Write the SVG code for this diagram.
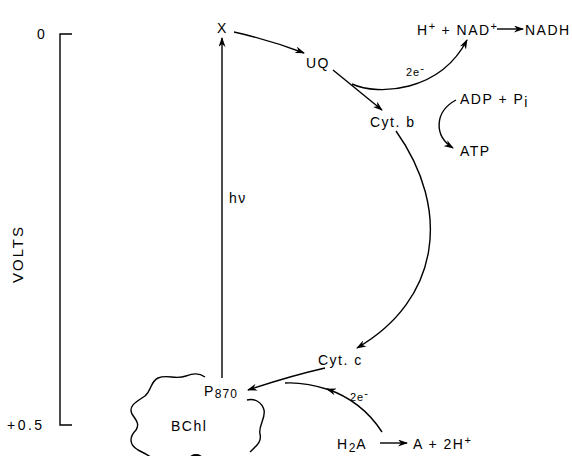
<svg xmlns="http://www.w3.org/2000/svg" width="572" height="456" viewBox="0 0 572 456">
<defs>
<marker id="ah" markerWidth="10" markerHeight="7" refX="9" refY="3.5" orient="auto" markerUnits="userSpaceOnUse">
<path d="M0,0 L10,3.5 L0,7 L3,3.5 z" fill="#000"/>
</marker>
<style>
text{font-family:"Liberation Sans",Arial,sans-serif;font-size:14px;fill:#000;letter-spacing:1.5px}
.c{fill:none;stroke:#000;stroke-width:1.4}
.s{font-size:11px;letter-spacing:1px}
</style>
</defs>
<rect width="572" height="456" fill="#fff"/>
<g id="axis">
<path class="c" d="M72,34 H60 V425 H72"/>
<text x="37" y="39">0</text>
<text x="7" y="430" style="letter-spacing:2.5px">+0.5</text>
<text transform="translate(23,254) rotate(-90)" text-anchor="middle" style="font-size:15px;letter-spacing:2px">VOLTS</text>
</g>
<g id="connectors">
<path class="c" d="M222,378 L222,38" marker-end="url(#ah)"/>
<path class="c" d="M234,32 Q270,40 304,53" marker-end="url(#ah)"/>
<path class="c" d="M333,70 L382,110" marker-end="url(#ah)"/>
<path class="c" d="M352,84 C378,96 440,92 467,40" marker-end="url(#ah)"/>
<path class="c" d="M497,29 L523,29" marker-end="url(#ah)"/>
<path class="c" d="M456,100 C434,112 434,136 453,148" marker-end="url(#ah)"/>
<path class="c" d="M396,131 C452,210 440,300 357,348" marker-end="url(#ah)"/>
<path class="c" d="M325,368 Q290,376 248,390" marker-end="url(#ah)"/>
<path class="c" d="M382,432 Q362,401 327,389" marker-end="url(#ah)"/>
<path class="c" d="M330,390 Q305,382 285,383"/>
<path class="c" d="M380,443 L407,443" marker-end="url(#ah)"/>
</g>
<g id="X"><text x="217" y="33">X</text></g>
<g id="hv"><text x="229" y="203">hν</text></g>
<g id="UQ"><text x="306" y="68">UQ</text></g>
<g id="e1"><text x="406" y="76" class="s">2e<tspan dy="-4">-</tspan></text></g>
<g id="NAD"><text x="417" y="35">H<tspan dy="-5" class="s">+</tspan><tspan dy="5"> + NAD</tspan><tspan dy="-5" class="s">+</tspan></text>
<text x="525" y="35">NADH</text></g>
<g id="Cytb"><text x="370" y="127">Cyt. b</text></g>
<g id="ADP"><text x="460" y="104">ADP + P<tspan dy="3">i</tspan></text></g>
<g id="ATP"><text x="460" y="156">ATP</text></g>
<g id="Cytc"><text x="318" y="365">Cyt. c</text></g>
<g id="e2"><text x="350" y="401" class="s">2e<tspan dy="-4">-</tspan></text></g>
<g id="H2A"><text x="337" y="449">H<tspan dy="3" class="s" style="font-size:12px">2</tspan><tspan dy="-3">A</tspan></text>
<text x="413" y="449">A + 2H<tspan dy="-5" class="s">+</tspan></text></g>
<g id="BChl">
<path class="c" d="M205,377 C198,372 192,374 186,376 C175,380 168,374 158,378 C150,382 152,390 145,396 C136,402 128,406 132,414 C136,420 140,424 136,430 C130,436 128,444 138,450 C146,454 150,456 155,460 M250,452 C256,446 262,442 260,434 C258,426 266,418 264,410 C262,402 254,398 247,400"/>
<ellipse cx="196" cy="459" rx="7" ry="5" fill="#000"/>
<text x="204" y="396">P<tspan dy="2" style="font-size:12px;letter-spacing:1px">870</tspan></text>
<text x="171" y="431">BChl</text>
</g>
</svg>
